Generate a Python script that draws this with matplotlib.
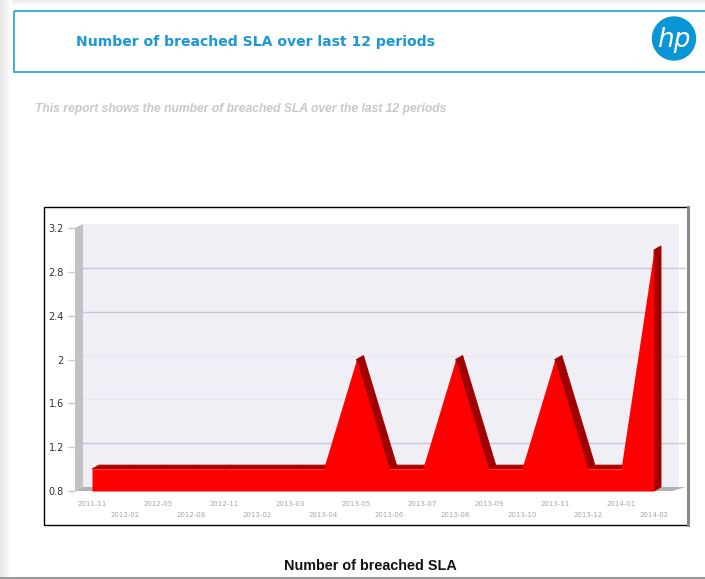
import matplotlib

matplotlib.use("Agg")

import matplotlib.pyplot as plt
import numpy as np
from matplotlib.patches import Circle, Polygon, Rectangle

PERIODS = [
    "2011-11", "2012-02", "2012-05", "2012-08", "2012-11", "2013-02",
    "2013-03", "2013-04", "2013-05", "2013-06", "2013-07", "2013-08",
    "2013-09", "2013-10", "2013-11", "2013-12", "2014-01", "2014-02",
]
BREACHED = [1, 1, 1, 1, 1, 1, 1, 1, 2, 1, 1, 2, 1, 1, 2, 1, 1, 3]
Y_TICKS = [0.8, 1.2, 1.6, 2.0, 2.4, 2.8, 3.2]
Y_TICK_LABELS = ["0.8", "1.2", "1.6", "2", "2.4", "2.8", "3.2"]
STRONG_GRID = [1.2, 2.4, 2.8]

TITLE = "Number of breached SLA over last 12 periods"
SUBTITLE = "This report shows the number of breached SLA over the last 12 periods"
CAPTION = "Number of breached SLA"

W, H = 705, 579
PX_X = 33.06   # pixels per period
PX_Y = 109.6   # pixels per unit

fig = plt.figure(figsize=(W / 100, H / 100), dpi=100)
fig.patch.set_facecolor("white")

# page layer in pixel coordinates
page = fig.add_axes([0, 0, 1, 1], zorder=0)
shade = np.linspace(0.9, 1.0, 12)[None, :]
page.imshow(shade, extent=(0, 12, H, 0), cmap="gray", vmin=0, vmax=1, aspect="auto")
top_shade = np.linspace(0.92, 1.0, 6)[:, None]
page.imshow(top_shade, extent=(12, W, 6, 0), cmap="gray", vmin=0, vmax=1, aspect="auto")
page.add_patch(Rectangle((0, 576.5), W, 3, color="#9a9a9a", lw=0))
page.set_xlim(0, W)
page.set_ylim(H, 0)
page.axis("off")

page.add_patch(Rectangle((14, 10.5), 720, 61.5, fill=False, edgecolor="#2ea6df", lw=1.3))
page.text(76, 42, TITLE, fontsize=10.05, fontweight="bold", color="#1b98d5",
          family="DejaVu Sans", va="center", ha="left")

page.add_patch(Circle((674, 38.5), 21.5, color="#0a96d6"))
page.text(674, 40, "hp", fontsize=19, style="italic",
          color="white", family="DejaVu Sans", ha="center", va="center")

page.text(35, 109, SUBTITLE, fontsize=8.75, fontweight="bold", style="italic",
          color="#c8c8c8", family="Liberation Sans", va="center", ha="left")

page.add_patch(Rectangle((44, 207), 644, 318, fill=False, edgecolor="black", lw=1.0))
page.plot([688, 688], [207, 525], color="#8a8a8a", lw=2.2)

page.text(370, 566, CAPTION, fontsize=10.4, fontweight="bold", color="#111111",
          family="Liberation Sans", ha="center", va="center")

# chart front plane
left_px, right_px, top_px, base_px = 75, 671, 228, 491
ax = fig.add_axes([left_px / W, (H - base_px) / H,
                   (right_px - left_px) / W, (base_px - top_px) / H], zorder=1)
ax.patch.set_visible(False)
x0 = (left_px - 92) / PX_X
x1 = (right_px - 92) / PX_X
ymin, ymax = 0.8, 3.2
ax.set_xlim(x0, x1)
ax.set_ylim(ymin, ymax)

wall_dx, wall_dy = 8 / PX_X, 4 / PX_Y
red_dx, red_dy = 7 / PX_X, 4 / PX_Y

# back plane, wall and floor
ax.add_patch(Rectangle((x0 + wall_dx, ymin + wall_dy), x1 - x0, ymax - ymin,
                       color="#efeff5", lw=0, clip_on=False, zorder=0))
for y in Y_TICKS[1:-1]:
    col = "#c6c6dc" if y in STRONG_GRID else "#e6e6ee"
    ax.plot([x0 + wall_dx, x1 + wall_dx + 6 / PX_X], [y + wall_dy, y + wall_dy],
            color=col, lw=1.0, clip_on=False, zorder=1)
ax.add_patch(Polygon([(x0, ymin), (x0, ymax), (x0 + wall_dx, ymax + wall_dy),
                      (x0 + wall_dx, ymin + wall_dy)],
                     closed=True, color="#c2c2c2", lw=0, clip_on=False, zorder=2))
ax.add_patch(Polygon([(x0, ymin), (x1 + 1 / PX_X, ymin),
                      (x1 + wall_dx + 7 / PX_X, ymin + wall_dy), (x0 + wall_dx, ymin + wall_dy)],
                     closed=True, color="#b2b2b2", lw=0, clip_on=False, zorder=2))

# extruded area: side faces along the outline, then the red front face
xs = np.arange(len(BREACHED))
vals = np.array(BREACHED, dtype=float)
outline = list(zip(xs, vals)) + [(xs[-1], ymin)]
for (xa, ya), (xb, yb) in zip(outline[:-1], outline[1:]):
    if yb > ya:
        continue  # rising faces sit behind the front face
    face = "#b00000" if ya == yb else "#a00000"
    ax.add_patch(Polygon([(xa, ya), (xb, yb), (xb + red_dx, yb + red_dy),
                          (xa + red_dx, ya + red_dy)],
                         closed=True, facecolor=face, edgecolor=face, lw=0.6,
                         clip_on=False, zorder=3))
ax.fill_between(xs, ymin, vals, color="#ff0000", lw=0, clip_on=False, zorder=4)

for side in ax.spines.values():
    side.set_visible(False)

ax.set_yticks(Y_TICKS, Y_TICK_LABELS)
ax.tick_params(axis="y", length=5, width=1, color="#c8c8dc", pad=3,
               labelsize=7, labelcolor="#333333")
ax.set_xticks(xs, PERIODS)
ax.tick_params(axis="x", length=0, labelsize=5, labelcolor="#a6a6a6", pad=7)
for tick in ax.xaxis.get_major_ticks()[1::2]:
    tick.set_pad(15)

fig.savefig("out.png", dpi=100)
